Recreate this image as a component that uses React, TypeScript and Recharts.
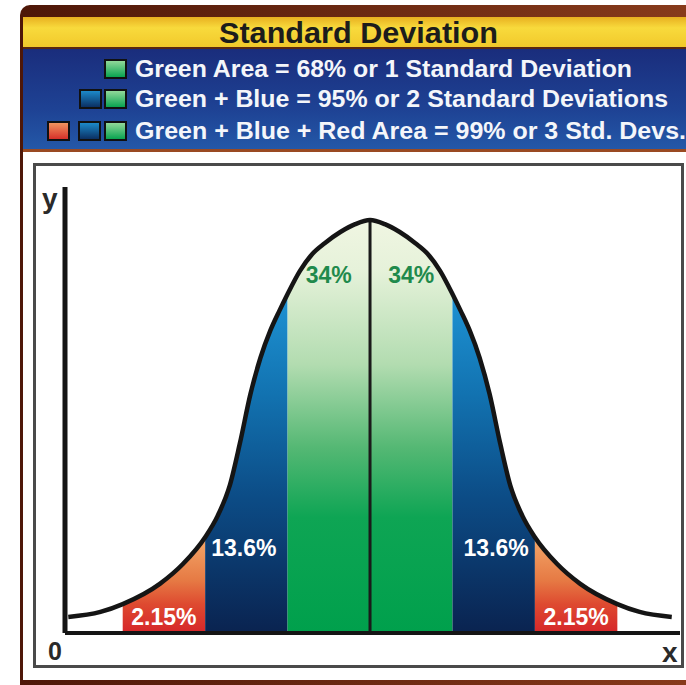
import React from "react";
import {
  Area,
  ComposedChart,
  Line,
  ReferenceDot,
  ReferenceLine,
  XAxis,
  YAxis,
} from "recharts";

// x in standard deviations from the mean, height relative to the peak (=100)
const sigmaX = [
  -3.66, -3.27, -3, -2.55, -2.27, -2, -1.85, -1.7, -1.58, -1.45, -1.33, -1.21, -1.1, -1,
  -0.85, -0.7, -0.55, -0.36, -0.18, 0, 0.18, 0.36, 0.55, 0.7, 0.85, 1, 1.1, 1.21, 1.33,
  1.45, 1.58, 1.7, 1.85, 2, 2.27, 2.55, 3, 3.27, 3.66,
];
const curveHeight = [
  3.9, 5.1, 7.0, 11.9, 16.7, 23.2, 28.3, 35.8, 45.8, 57.9, 66.6, 73.2, 78.0, 82.1,
  87.7, 91.8, 94.4, 97.1, 99.0, 100, 99.0, 97.1, 94.4, 91.8, 87.7, 82.1, 78.0, 73.2, 66.6,
  57.9, 45.8, 35.8, 28.3, 23.2, 16.7, 11.9, 7.0, 5.1, 3.9,
];

const bandKeys = ["redL", "blueL", "green", "blueR", "redR"];
const bandFrom = [-3, -2, -1, 1, 2];
const bandTo = [-2, -1, 1, 2, 3];
const bandFill = ["url(#red)", "url(#blue)", "url(#green)", "url(#blue)", "url(#red)"];

const labelText = ["2.15%", "13.6%", "34%", "34%", "13.6%", "2.15%"];
const labelX = [-2.5, -1.53, -0.5, 0.5, 1.53, 2.5];
const labelY = [3.9, 20.6, 86.7, 86.7, 20.6, 3.9];
const labelColor = ["#fff", "#fff", "#1f8a4c", "#1f8a4c", "#fff", "#fff"];

const legendLines = [
  "Green Area = 68% or 1 Standard Deviation",
  "Green + Blue = 95% or 2 Standard Deviations",
  "Green + Blue + Red Area = 99% or 3 Std. Devs.",
];

const FONT = '"Liberation Sans", Arial, Helvetica, sans-serif';

const rows = sigmaX.map((x, i) => {
  const row: Record<string, number | null> = { x, curve: curveHeight[i] };
  bandKeys.forEach((k, b) => {
    row[k] = x >= bandFrom[b] - 1e-9 && x <= bandTo[b] + 1e-9 ? curveHeight[i] : null;
  });
  return row;
});

function Square({ x, y, fill }: { x: number; y: number; fill: string }) {
  return <rect x={x} y={y} width={21} height={18} fill={fill} stroke="#111" strokeWidth={2} />;
}

function Frame() {
  return (
    <svg width={686} height={685} style={{ position: "absolute", left: 0, top: 0 }}>
      <defs>
        <linearGradient id="brown" x1="0" y1="0" x2="1" y2="0">
          <stop offset="0" stopColor="#4e1708" />
          <stop offset="1" stopColor="#8a3c1c" />
        </linearGradient>
        <linearGradient id="yellow" x1="0" y1="0" x2="0" y2="1">
          <stop offset="0" stopColor="#e8b020" />
          <stop offset="0.35" stopColor="#f8da3c" />
          <stop offset="1" stopColor="#f1c82a" />
        </linearGradient>
        <linearGradient id="navy" x1="0" y1="0" x2="0" y2="1">
          <stop offset="0" stopColor="#1a2d7c" />
          <stop offset="0.6" stopColor="#1e4294" />
          <stop offset="1" stopColor="#2458a8" />
        </linearGradient>
        <linearGradient id="sqGreen" x1="0" y1="0" x2="0" y2="1">
          <stop offset="0" stopColor="#9adc9e" />
          <stop offset="1" stopColor="#00a04c" />
        </linearGradient>
        <linearGradient id="sqBlue" x1="0" y1="0" x2="0" y2="1">
          <stop offset="0" stopColor="#1d8fd0" />
          <stop offset="1" stopColor="#0a2a5c" />
        </linearGradient>
        <linearGradient id="sqRed" x1="0" y1="0" x2="0" y2="1">
          <stop offset="0" stopColor="#f29a62" />
          <stop offset="1" stopColor="#d42a26" />
        </linearGradient>
      </defs>
      <rect x={20} y={5} width={700} height={690} rx={10} fill="url(#brown)" />
      <rect x={23} y={17} width={663} height={31} fill="url(#yellow)" />
      <rect x={23} y={47} width={663} height={2} fill="#5a2810" />
      <rect x={23} y={49} width={663} height={100} fill="url(#navy)" />
      <rect x={23} y={149} width={663} height={3} fill="#9a4a22" />
      <rect x={23} y={152} width={663} height={528} fill="#fff" />
      <rect x={34.5} y={164.5} width={648} height={502} fill="none" stroke="#4a4a4a" strokeWidth={3} />

      <text x={219} y={43} fontFamily={FONT} fontWeight={700} fontSize={29} fill="#1c1c1c"
        textLength={279} lengthAdjust="spacingAndGlyphs">Standard Deviation</text>

      <Square x={105} y={60} fill="url(#sqGreen)" />
      <Square x={80} y={90} fill="url(#sqBlue)" />
      <Square x={105} y={90} fill="url(#sqGreen)" />
      <Square x={48} y={122} fill="url(#sqRed)" />
      <Square x={79} y={122} fill="url(#sqBlue)" />
      <Square x={105} y={122} fill="url(#sqGreen)" />
      {legendLines.map((t, i) => (
        <text key={t} x={135} y={[77, 107, 139][i]} fontFamily={FONT} fontWeight={700} fontSize={24}
          fill="#f4f6fa" textLength={[497, 533, 551][i]} lengthAdjust="spacingAndGlyphs">{t}</text>
      ))}

      <text x={42} y={208} fontFamily={FONT} fontWeight={700} fontSize={28} fill="#2a2a2a">y</text>
      <text x={55} y={660} textAnchor="middle" fontFamily={FONT} fontWeight={700} fontSize={25} fill="#2a2a2a">0</text>
      <text x={662} y={662} fontFamily={FONT} fontWeight={700} fontSize={28} fill="#2a2a2a">x</text>
    </svg>
  );
}

export default function App() {
  return (
    <div style={{ position: "absolute", left: 0, top: 0, width: 686, height: 685, overflow: "hidden", fontFamily: FONT }}>
      <Frame />
      <div style={{ position: "absolute", left: 0, top: 0 }}>
        <ComposedChart width={686} height={685} data={rows} margin={{ top: 187, right: 6, bottom: 52, left: 65 }}>
          <defs>
            <linearGradient id="green" x1="0" y1="0" x2="0" y2="1">
              <stop offset="0" stopColor="#f0f6e2" />
              <stop offset="0.12" stopColor="#e6f2da" />
              <stop offset="0.35" stopColor="#b2dcb0" />
              <stop offset="0.55" stopColor="#55b874" />
              <stop offset="0.72" stopColor="#0ea554" />
              <stop offset="1" stopColor="#00a04c" />
            </linearGradient>
            <linearGradient id="blue" x1="0" y1="0" x2="0" y2="1">
              <stop offset="0" stopColor="#1e93d4" />
              <stop offset="0.3" stopColor="#1272b0" />
              <stop offset="0.6" stopColor="#0c4c86" />
              <stop offset="1" stopColor="#0a2350" />
            </linearGradient>
            <linearGradient id="red" x1="0" y1="0" x2="0" y2="1">
              <stop offset="0" stopColor="#f3a86a" />
              <stop offset="0.45" stopColor="#e67a44" />
              <stop offset="0.7" stopColor="#de4a30" />
              <stop offset="1" stopColor="#d6262a" />
            </linearGradient>
          </defs>
          <XAxis type="number" dataKey="x" domain={[-3.7, 3.76]} hide />
          <YAxis type="number" domain={[0, 108]} hide />
          {bandKeys.map((k, b) => (
            <Area
              key={k}
              dataKey={k}
              type="monotone"
              stroke="none"
              fill={bandFill[b]}
              fillOpacity={1}
              connectNulls={false}
              dot={false}
              activeDot={false}
              isAnimationActive={false}
            />
          ))}
          <ReferenceLine segment={[{ x: 0, y: 0 }, { x: 0, y: 100 }]} stroke="#1a1a1a" strokeWidth={3} />
          <ReferenceLine y={0} stroke="#151515" strokeWidth={4} />
          <ReferenceLine segment={[{ x: -3.7, y: 0 }, { x: -3.7, y: 108 }]} stroke="#151515" strokeWidth={5} />
          <Line
            dataKey="curve"
            type="monotone"
            stroke="#151515"
            strokeWidth={4.5}
            dot={false}
            activeDot={false}
            isAnimationActive={false}
          />
          {labelText.map((t, i) => (
            <ReferenceDot
              key={i}
              x={labelX[i]}
              y={labelY[i]}
              r={0}
              fill="none"
              stroke="none"
              label={{ value: t, position: "center", fill: labelColor[i], fontSize: 23, fontWeight: 700, fontFamily: FONT }}
            />
          ))}
        </ComposedChart>
      </div>
    </div>
  );
}
